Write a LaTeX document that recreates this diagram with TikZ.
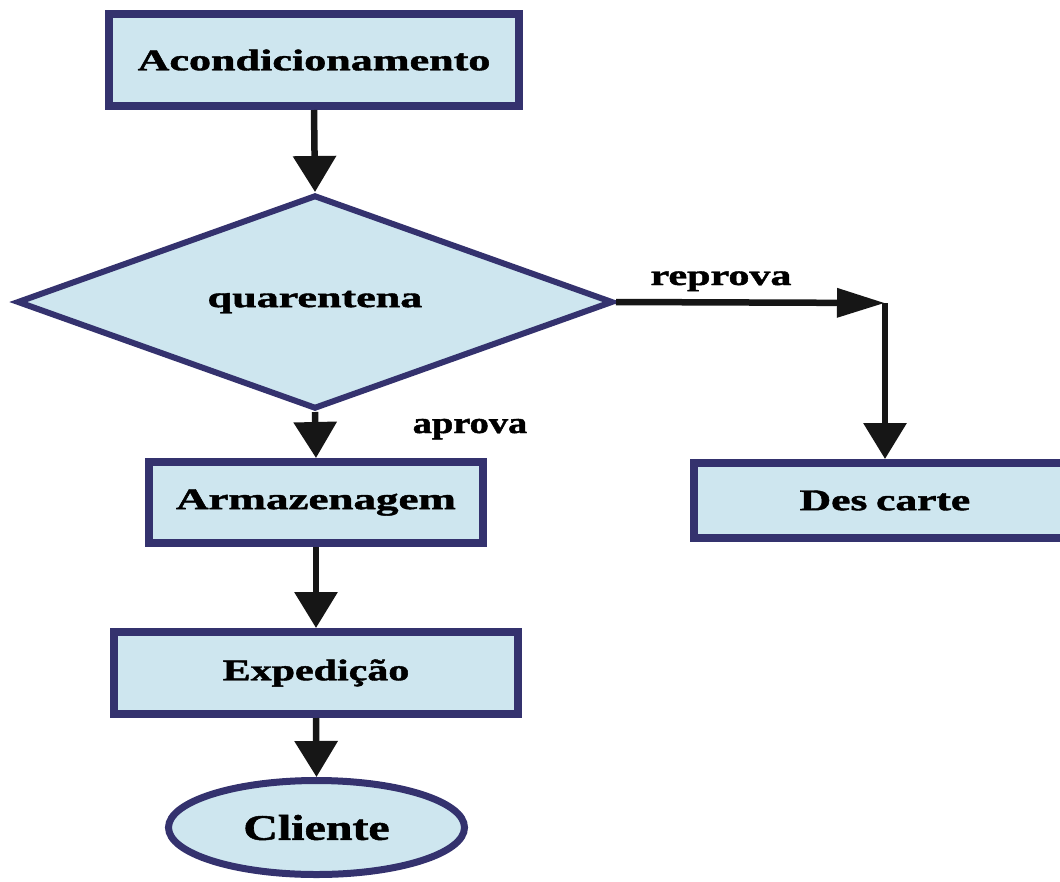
\documentclass[tikz,border=0pt]{standalone}
\usepackage{fontspec}
\setmainfont{Liberation Serif}
\newfontfamily\heavyfont{Liberation Serif}[BoldFeatures={FakeBold=1.3}]
\usetikzlibrary{arrows.meta,shapes.geometric}

\definecolor{boxfill}{RGB}{206,230,239}
\definecolor{boxline}{RGB}{52,50,110}
\definecolor{arrowink}{RGB}{22,22,22}

% heavy, horizontally widened label text: size, stretch, text
\newcommand{\lbl}[3]{{\heavyfont\fontsize{#1}{#1}\selectfont\bfseries\scalebox{#2}[1]{#3}}}

\begin{document}
\begin{tikzpicture}[x=1pt,y=-1pt,
  stage/.style={rectangle, draw=boxline, fill=boxfill, line width=8pt, inner sep=0pt},
  decision/.style={diamond, draw=boxline, fill=boxfill, line width=6pt, inner sep=0pt},
  terminal/.style={ellipse, draw=boxline, fill=boxfill, line width=7pt, inner sep=0pt},
  flow/.style={draw=arrowink, line width=6.5pt, -{Triangle[length=36pt,width=42pt]}},
  flowlong/.style={draw=arrowink, line width=6.5pt, -{Triangle[length=48pt,width=28pt]}},
  plain/.style={inner sep=0pt, text=black}]

\clip (0,0) rectangle (1060,881);
\fill[white] (0,0) rectangle (1060,881);

% process steps
\node[stage, minimum width=410pt, minimum height=92pt] (acond) at (314,60)
  {\lbl{30}{1.47}{Acondicionamento}};
\node[decision, minimum width=596pt, minimum height=214pt, aspect=2.785] (quar) at (315,302)
  {\lbl{29}{1.52}{quarentena}};
\node[stage, minimum width=334pt, minimum height=81pt] (arm) at (316,502.5)
  {\lbl{30}{1.50}{Armazenagem}};
\node[stage, minimum width=404pt, minimum height=82pt] (exped) at (316,673)
  {\lbl{30}{1.40}{Expedição}};
\node[terminal, minimum width=296pt, minimum height=94pt] (cli) at (316.5,827.5)
  {\lbl{36}{1.33}{Cliente}};
\node[stage, minimum width=382pt, minimum height=75pt] (desc) at (885,500.5)
  {\lbl{30}{1.45}{Des\hspace{0.2em}carte}};

% branch labels
\node[plain, anchor=base] (lrep) at (721,285) {\lbl{29}{1.45}{reprova}};
\node[plain, anchor=base] (lapr) at (470,433) {\lbl{30}{1.28}{aprova}};

% connectors
\coordinate (turn) at (885,303);
\draw[flow] (acond.south) -- (quar.north);
\draw[flow] (quar.south) -- (arm.north);
\draw[flow] (arm.south) -- (exped.north);
\draw[flow] (exped.south) -- (cli.north);
\draw[flowlong] (quar.east) -- (turn);
\draw[flow] (turn) -- (desc.north);
\end{tikzpicture}
\end{document}
